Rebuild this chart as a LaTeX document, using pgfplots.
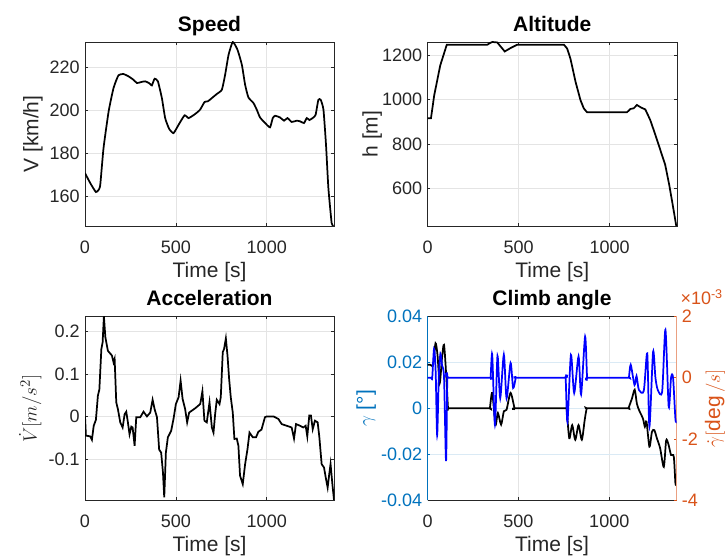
\documentclass[border=0pt]{standalone}
\usepackage{fontspec}
\setmainfont{Liberation Sans}
\usepackage{pgfplots}
\pgfplotsset{compat=1.18}

\definecolor{mblue}{RGB}{0,114,189}
\definecolor{morange}{RGB}{217,83,25}
\definecolor{mgrid}{RGB}{228,228,228}
\definecolor{mbgrid}{RGB}{218,234,245}
\definecolor{mtext}{RGB}{38,38,38}

\pgfplotsset{
  mat/.style={
    scale only axis, width=186.75pt, height=138pt,
    xmin=0, xmax=1370,
    xtick={0,500,1000}, xticklabels={0,500,1000},
    scaled ticks=false,
    grid=major, grid style={mgrid, line width=0.4pt},
    axis line style={mtext, line width=0.4pt, -},
    tick style={mtext, line width=0.4pt},
    major tick length=2.2pt, tick align=inside,
    ticklabel style={font=\fontsize{13.5}{16}\selectfont, text=mtext},
    xticklabel style={yshift=-7pt},
    label style={font=\fontsize{15.75}{18}\selectfont, text=mtext},
    title style={font=\fontsize{15.75}{18}\selectfont\bfseries, text=black,
      at={(0.5,1)}, anchor=base, yshift=1.8pt},
    xlabel style={at={(0.5,0)}, anchor=base, yshift=-38.5pt},
    xlabel={Time [s]},
    line width=1.3pt,
  },
  ylab/.style={ylabel style={at={(axis description cs:#1,0.5)}, anchor=center}},
}

\begin{document}
\begin{tikzpicture}

% Speed
\begin{axis}[mat, at={(63.75pt,-31.5pt)}, anchor=north west,
  title={Speed}, ylabel={V [km/h]}, ylab=-0.2088,
  ymin=146.2, ymax=231.8,
  ytick={160,180,200,220}, yticklabels={160,180,200,220}]
\addplot[black, smooth, tension=0.3] coordinates {
(0,170.8) (30,166) (60,162) (75,163) (84,165.4) (102,182.5) (130,199.5) (157,210.4)
(184,216.3) (211,216.9) (240,215.8) (267,214.2) (286,212.7) (310,213.2) (331,213.5)
(350,212.8) (359,212.2) (368,211.6) (383,214.7) (401,213.5) (423,205.7) (441,196.4)
(463,191.4) (487,189.4) (515,193.3) (548,197.7) (570,196.4) (606,198.3) (633,200.3)
(658,203.9) (676,204.2) (698,205.7) (725,207.6) (753,209.6) (771,216.6) (790,225.9)
(813,231.8) (839,228.2) (863,221.2) (881,211.9) (899,206) (927,203.4) (945,200.3)
(963,196.7) (991,194.1) (1018,192.1) (1033,196.4) (1046,197.5) (1073,196.7)
(1095,195.2) (1114,196.4) (1137,194.6) (1165,195.2) (1183,194.9) (1205,194.1)
(1220,196.4) (1235,195.5) (1257,196.7) (1269,198) (1284,204.9) (1297,204.9)
(1312,200.3) (1326,184) (1339,163.9) (1357,147.6) (1367,146.2)
};
\end{axis}

% Altitude
\begin{axis}[mat, at={(320.625pt,-31.5pt)}, anchor=north west, width=187.125pt,
  title={Altitude}, ylabel={h [m]}, ylab=-0.2218,
  ymin=427, ymax=1262,
  ytick={600,800,1000,1200}, yticklabels={600,800,1000,1200}]
\addplot[black] coordinates {
(0,916) (19,916) (37,1021) (70,1156) (106,1250) (329,1250) (345,1258) (356,1262)
(383,1260) (424,1219) (457,1235) (493,1250) (749,1250) (767,1232) (785,1186)
(813,1081) (840,998) (858,961) (876,943) (1095,943) (1114,958) (1132,961)
(1150,976) (1174,964) (1196,956) (1223,908) (1251,841) (1278,773) (1305,705)
(1327,615) (1346,525) (1366,427)
};
\end{axis}

% Acceleration
\begin{axis}[mat, at={(63.75pt,-237.225pt)}, anchor=north west,
  title={Acceleration}, ylabel={$\dot{V}[m/s^2]$}, ylab=-0.2195,
  ymin=-0.197, ymax=0.235,
  ytick={-0.1,0,0.1,0.2}, yticklabels={-0.1,0,0.1,0.2}]
\addplot[black] coordinates {
(0,0) (5,-0.045) (29,-0.047) (38,-0.055) (48,-0.022) (60,-0.008) (71,0.049)
(79,0.063) (90,0.158) (97,0.174) (104,0.235) (112,0.186) (126,0.154) (148,0.143)
(157,0.127) (163,0.135) (172,0.033) (181,0.017) (194,-0.014) (207,-0.026)
(218,0.005) (227,0.011) (236,-0.014) (245,-0.042) (255,-0.024) (262,-0.026)
(273,-0.069) (282,-0.002) (304,-0.002) (322,0.011) (341,0) (359,0.009) (372,0.039)
(383,0.017) (396,-0.002) (408,-0.078) (419,-0.085) (429,-0.132) (436,-0.19)
(445,-0.085) (456,-0.049) (474,-0.034) (487,-0.006) (500,0.029) (515,0.045)
(526,0.084) (537,0.041) (551,0.017) (562,-0.014) (573,0.009) (606,0.019)
(634,0.029) (646,0.059) (657,-0.01) (670,-0.014) (685,0.033) (698,-0.026)
(707,-0.038) (716,0.005) (725,0.039) (740,0.029) (747,0.045) (758,0.151)
(765,0.158) (775,0.183) (784,0.143) (793,0.088) (802,0.045) (813,0.009)
(822,-0.053) (835,-0.052) (844,-0.069) (853,-0.139) (868,-0.159) (881,-0.112)
(894,-0.077) (905,-0.038) (923,-0.049) (941,-0.049) (954,-0.036) (971,-0.031)
(990,-0.002) (1000,0) (1037,0) (1064,-0.006) (1082,-0.018) (1110,-0.022)
(1137,-0.026) (1150,-0.052) (1161,-0.018) (1183,-0.022) (1201,-0.026)
(1214,-0.022) (1223,-0.047) (1234,0.002) (1243,0.002) (1253,-0.03) (1265,-0.01)
(1280,-0.014) (1289,-0.047) (1302,-0.112) (1315,-0.12) (1326,-0.147)
(1335,-0.167) (1344,-0.135) (1351,-0.112) (1362,-0.163) (1370,-0.196)
};
\end{axis}

% Climb angle, left axis
\begin{axis}[mat, at={(320.625pt,-237.225pt)}, anchor=north west,
  title={Climb angle}, ylabel={$\gamma$ [°]}, ylab=-0.2463,
  axis x line*=box, axis y line*=left,
  y axis line style={mblue}, ytick style={mblue},
  yticklabel style={text=mblue}, ylabel style={text=mblue},
  y grid style={mbgrid},
  ymin=-0.04, ymax=0.04,
  ytick={-0.04,-0.02,0,0.02,0.04}, yticklabels={-0.04,-0.02,0,0.02,0.04}]
\addplot[black, smooth, tension=0.45] coordinates {
(0,0.0189) (15,0.0189) (31,0.019) (44,0.0283) (55,0.0232) (67,0.0109) (80,0.022)
(91,0.0276) (104,0.013) (113,0) (120,0) (336,0) (343,0) (356,0.0067)
(374,-0.0071) (387,-0.002) (405,-0.0071) (420,-0.0013) (435,-0.0006)
(457,0.0067) (479,0) (486,0) (758,0) (765,0) (780,-0.013) (796,-0.0073)
(813,-0.0137) (831,-0.0073) (849,-0.0137) (865,-0.005) (876,0) (883,0)
(1098,0) (1105,0) (1125,0.0043) (1140,0.0081) (1152,0.002) (1165,-0.001)
(1185,-0.0044) (1196,-0.008) (1205,-0.0058) (1221,-0.0167) (1235,-0.0102)
(1248,-0.0095) (1262,-0.013) (1280,-0.0174) (1300,-0.0255) (1313,-0.014)
(1325,-0.0155) (1340,-0.0203) (1355,-0.021) (1364,-0.0326) (1369,-0.033)
};
\end{axis}

% Climb angle, right axis
\begin{axis}[mat, name=climbR, at={(320.625pt,-237.225pt)}, anchor=north west,
  xlabel={}, grid=none,
  axis x line=none, axis y line*=right,
  y axis line style={morange!55}, ytick style={morange},
  yticklabel style={text=morange},
  ylabel={$\dot{\gamma}[\deg/s]$},
  ylabel style={at={(axis description cs:1.1542,0.5)}, anchor=center, text=morange},
  ymin=-4, ymax=2,
  ytick={-4,-2,0,2}, yticklabels={-4,-2,0,2}]
\addplot[blue, smooth, tension=0.45] coordinates {
(0,0) (20,0) (26,0) (36,0.94) (45,0.18) (53,-1.88) (62,0) (71,0.78) (80,0.4)
(91,0) (102,-2.72) (109,0) (116,0) (340,0) (347,0) (356,0.75) (371,-1.54)
(385,0.71) (400,-0.67) (420,0.75) (435,-0.67) (457,0.48) (471,-0.34) (486,0)
(493,0) (753,0) (760,0) (770,-1.44) (789,0.74) (807,-0.5) (831,0.69)
(845,-0.55) (867,1.34) (878,0) (885,0) (1101,0) (1108,0) (1118,0.42)
(1139,-0.24) (1150,0.05) (1163,-0.4) (1190,-0.43) (1209,0.79) (1221,-1.6)
(1241,0.84) (1254,0) (1267,-0.4) (1291,-0.45) (1309,1.56) (1327,-0.95)
(1340,0) (1351,0) (1364,-1.35) (1369,-1.4)
};
\end{axis}
\node[anchor=base west, text=morange, font=\fontsize{13.5}{16}\selectfont,
  inner sep=0pt] at ([xshift=2.8pt,yshift=8.5pt]climbR.north east)
  {×10\textsuperscript{-3}};

\pgfresetboundingbox
\path[use as bounding box] (0,0) rectangle (545.25pt,-417pt);
\end{tikzpicture}
\end{document}
